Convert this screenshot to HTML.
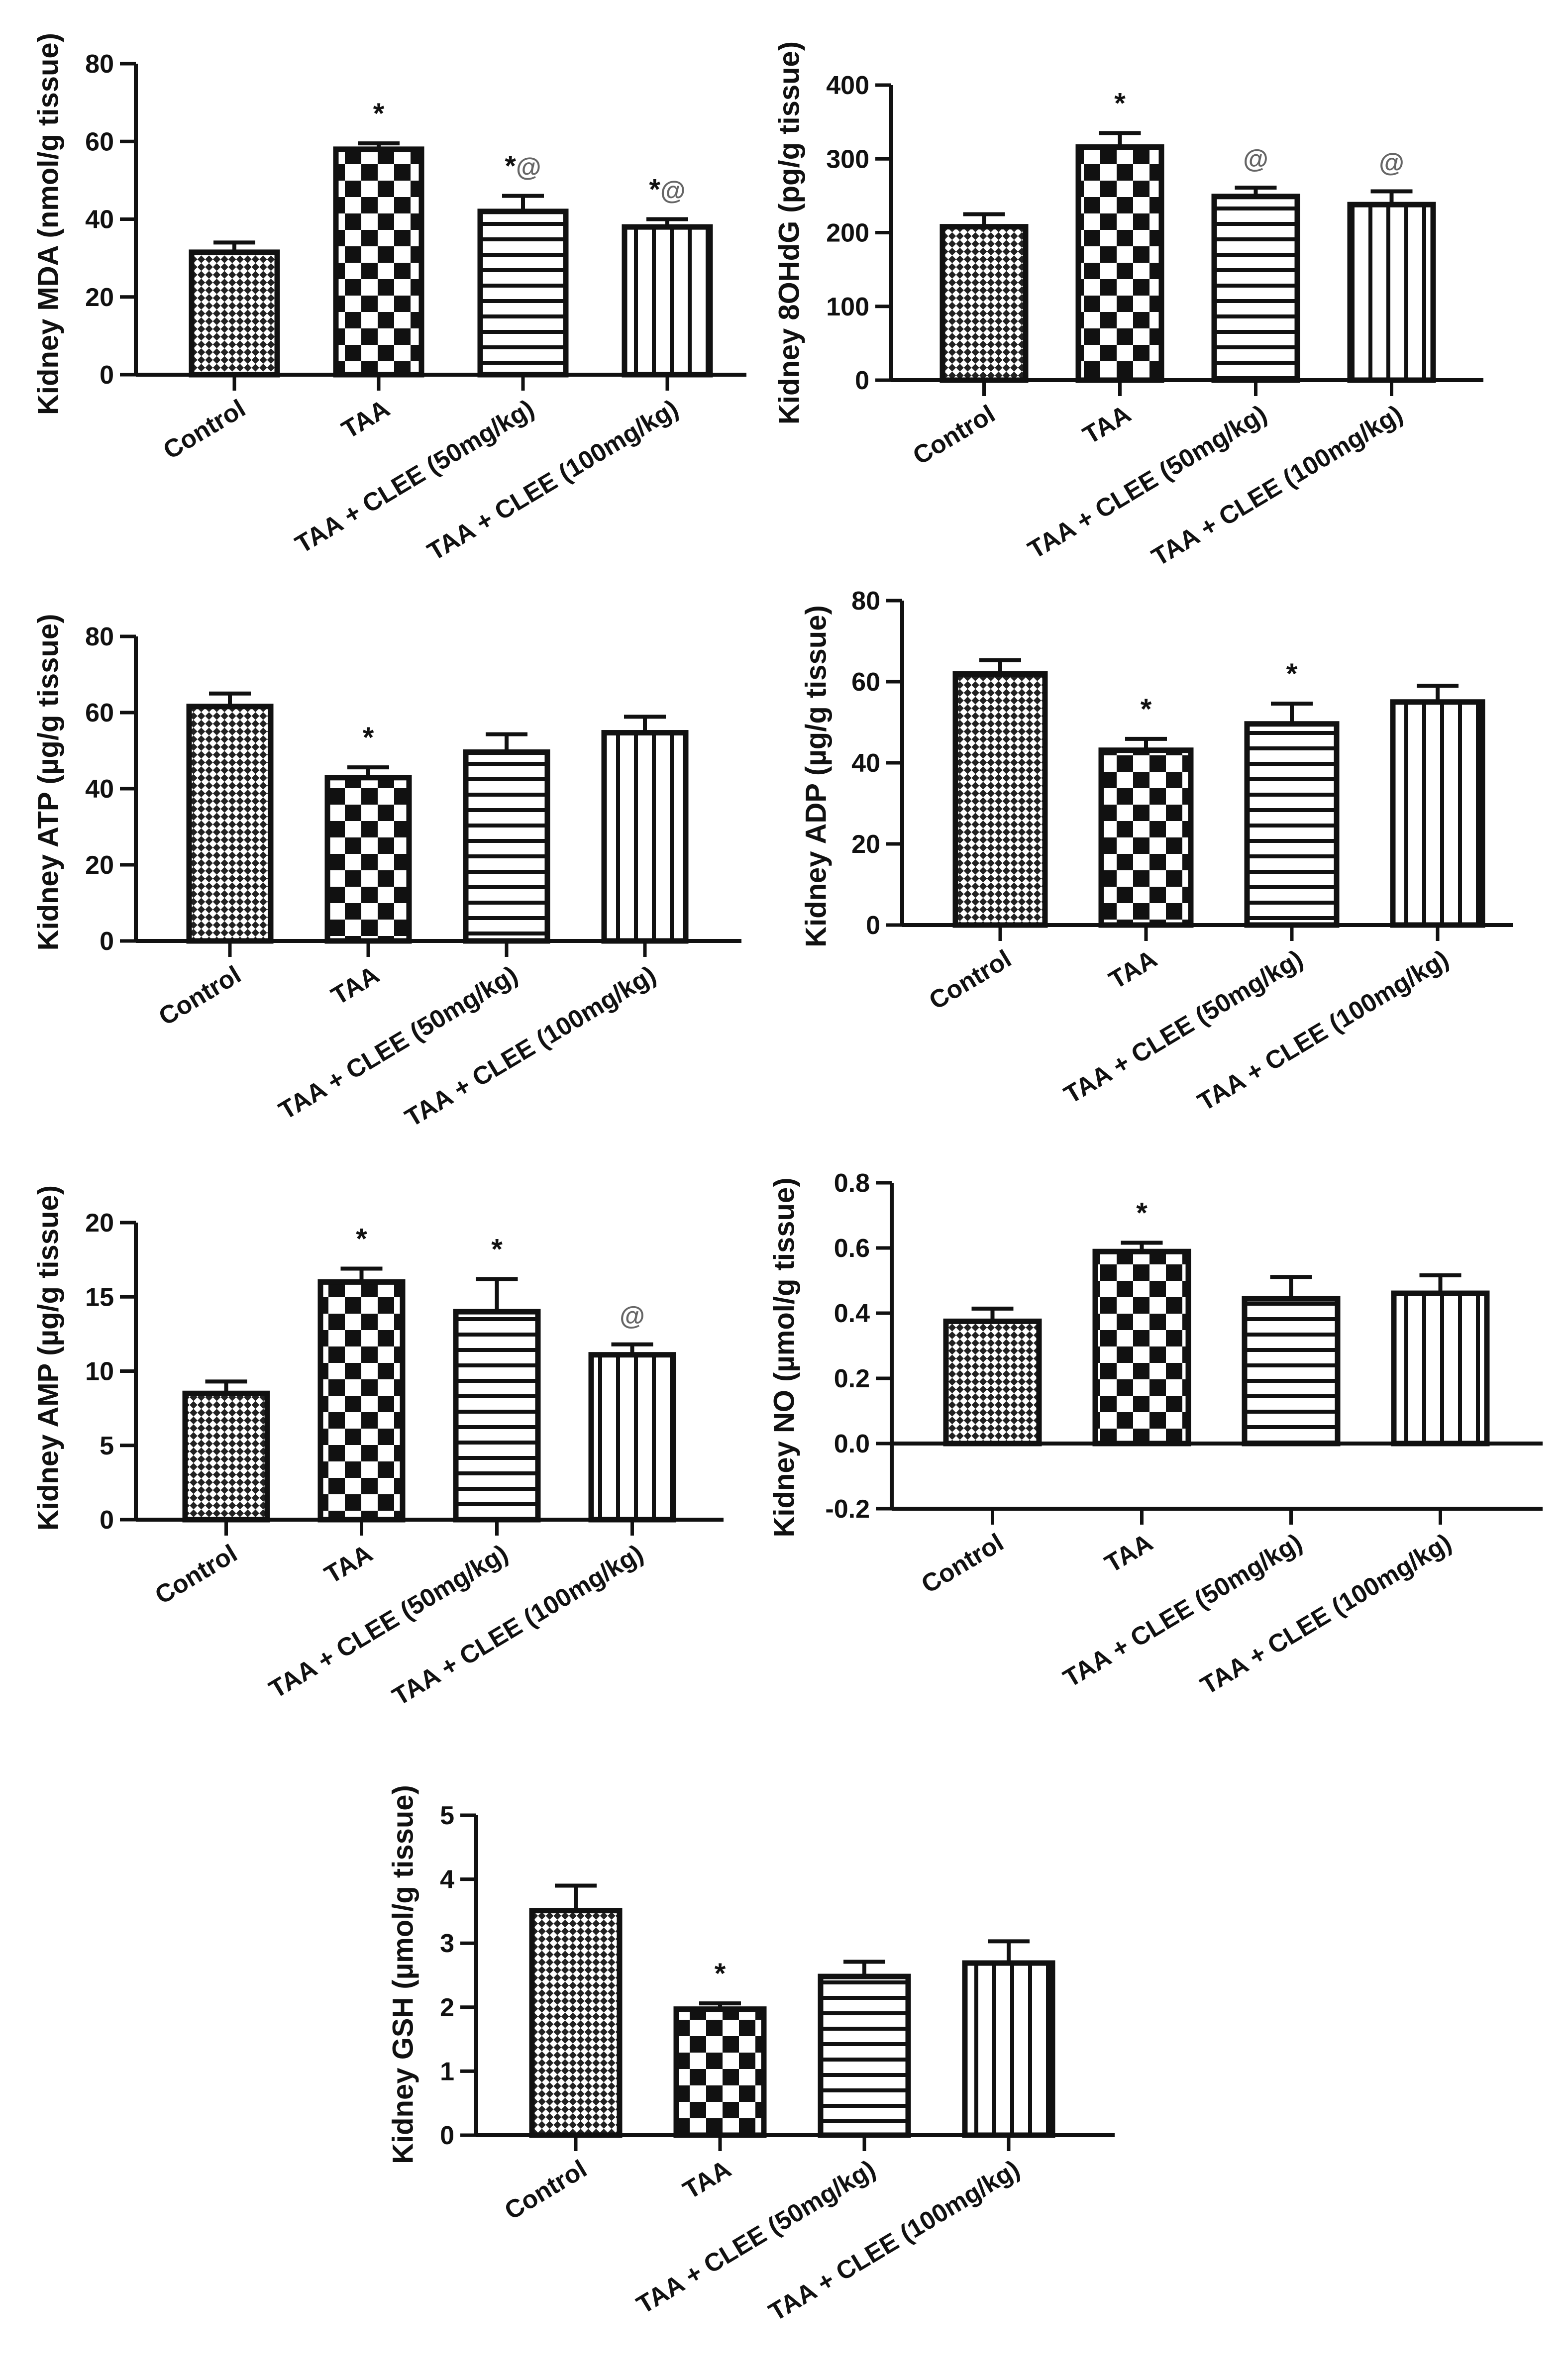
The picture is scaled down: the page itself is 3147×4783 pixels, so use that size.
<!DOCTYPE html>
<html><head><meta charset="utf-8"><style>
html,body{margin:0;padding:0;background:#fff;}
svg{display:block;font-family:"Liberation Sans",Arial,sans-serif;}
</style></head><body>
<svg id="fig" width="3147" height="4783" viewBox="0 0 3147 4783" xmlns="http://www.w3.org/2000/svg">
<defs>
<pattern id="pCtrl" patternUnits="userSpaceOnUse" width="22" height="22" patternTransform="rotate(45)">
<rect width="22" height="22" fill="#fff"/><rect width="11" height="11" fill="#222"/><rect x="11" y="11" width="11" height="11" fill="#222"/></pattern>
<pattern id="pTAA" patternUnits="userSpaceOnUse" width="66" height="66">
<rect width="66" height="66" fill="#fff"/><rect width="33" height="33" fill="#111"/><rect x="33" y="33" width="33" height="33" fill="#111"/></pattern>
<pattern id="pH" patternUnits="userSpaceOnUse" width="31" height="31">
<rect width="31" height="31" fill="#fff"/><rect y="12" width="31" height="8" fill="#111"/></pattern>
<pattern id="pV" patternUnits="userSpaceOnUse" width="36" height="36">
<rect width="36" height="36" fill="#fff"/><rect x="14" width="8" height="36" fill="#111"/></pattern>
</defs>
</svg>
<script>
const categories = ["Control", "TAA", "TAA + CLEE (50mg/kg)", "TAA + CLEE (100mg/kg)"];
const mdaValues = [31.5, 58, 42, 38];
const mdaErrors = [2.5, 1.5, 4, 2];
const mdaMarks = ["", "*", "*@", "*@"];
const ohdgValues = [208, 316, 249, 238];
const ohdgErrors = [17, 19, 12, 18];
const ohdgMarks = ["", "*", "@", "@"];
const atpValues = [61.6, 42.9, 49.6, 54.7];
const atpErrors = [3.4, 2.7, 4.7, 4.2];
const atpMarks = ["", "*", "", ""];
const adpValues = [61.9, 43.1, 49.6, 55];
const adpErrors = [3.4, 2.8, 5, 4];
const adpMarks = ["", "*", "*", ""];
const ampValues = [8.5, 16.0, 14.0, 11.1];
const ampErrors = [0.8, 0.9, 2.2, 0.7];
const ampMarks = ["", "*", "*", "@"];
const noValues = [0.375, 0.589, 0.444, 0.461];
const noErrors = [0.039, 0.027, 0.067, 0.055];
const noMarks = ["", "*", "", ""];
const gshValues = [3.51, 1.97, 2.48, 2.69];
const gshErrors = [0.39, 0.09, 0.23, 0.34];
const gshMarks = ["", "*", "", ""];
const mdaTicks = [0, 20, 40, 60, 80];
const ohdgTicks = [0, 100, 200, 300, 400];
const atpTicks = [0, 20, 40, 60, 80];
const adpTicks = [0, 20, 40, 60, 80];
const ampTicks = [0, 5, 10, 15, 20];
const noTicks = [-0.2, 0, 0.2, 0.4, 0.6, 0.8];
const gshTicks = [0, 1, 2, 3, 4, 5];

const fills = ["url(#pCtrl)", "url(#pTAA)", "url(#pH)", "url(#pV)"];
const NS = "http://www.w3.org/2000/svg";
const svg = document.getElementById("fig");
function mk(tag, attrs, parent) {
  const e = document.createElementNS(NS, tag);
  for (const k in attrs) e.setAttribute(k, attrs[k]);
  (parent || svg).appendChild(e);
  return e;
}
const charts = [
  {id:"mda", title:"Kidney MDA (nmol/g tissue)", vals:mdaValues, errs:mdaErrors, marks:mdaMarks, ticks:mdaTicks, dec:0,
   ax:273, xEnd:1500, yTopPx:128, yMinPx:753, ymin:0, ymax:80, left:380, step:290, w:182, tx:97, ty:450},
  {id:"8ohdg", title:"Kidney 8OHdG (pg/g tissue)", vals:ohdgValues, errs:ohdgErrors, marks:ohdgMarks, ticks:ohdgTicks, dec:0,
   ax:1791, xEnd:2981, yTopPx:171, yMinPx:764, ymin:0, ymax:400, left:1889, step:273, w:177, tx:1586, ty:468},
  {id:"atp", title:"Kidney ATP (µg/g tissue)", vals:atpValues, errs:atpErrors, marks:atpMarks, ticks:atpTicks, dec:0,
   ax:273, xEnd:1490, yTopPx:1279, yMinPx:1891, ymin:0, ymax:80, left:375, step:278, w:174, tx:97, ty:1572},
  {id:"adp", title:"Kidney ADP (µg/g tissue)", vals:adpValues, errs:adpErrors, marks:adpMarks, ticks:adpTicks, dec:0,
   ax:1813, xEnd:3040, yTopPx:1207, yMinPx:1859, ymin:0, ymax:80, left:1915, step:293, w:190, tx:1640, ty:1560},
  {id:"amp", title:"Kidney AMP (µg/g tissue)", vals:ampValues, errs:ampErrors, marks:ampMarks, ticks:ampTicks, dec:0,
   ax:273, xEnd:1454, yTopPx:2457, yMinPx:3054, ymin:0, ymax:20, left:367, step:272, w:175, tx:97, ty:2729},
  {id:"no", title:"Kidney NO (µmol/g tissue)", vals:noValues, errs:noErrors, marks:noMarks, ticks:noTicks, dec:1,
   ax:1792, xEnd:3100, yTopPx:2377, yMinPx:3032, ymin:-0.2, ymax:0.8, left:1896, step:300, w:197, tx:1576, ty:2728},
  {id:"gsh", title:"Kidney GSH (µmol/g tissue)", vals:gshValues, errs:gshErrors, marks:gshMarks, ticks:gshTicks, dec:0,
   ax:957, xEnd:2240, yTopPx:3648, yMinPx:4291, ymin:0, ymax:5, left:1064, step:290, w:186, tx:810, ty:3968}
];
charts.forEach(c => {
  const g = mk("g", {});
  
  
  const y = v => c.yMinPx + (v - c.ymin) * (c.yTopPx - c.yMinPx) / (c.ymax - c.ymin);
  const y0 = y(Math.max(0, c.ymin));
  const xc = i => c.left + i * c.step + c.w / 2;
  c.vals.forEach((v, i) => {
    const b = mk("rect", {x: c.left + i*c.step + 5, y: y(v), width: c.w - 10, height: y0 - y(v), fill: fills[i], stroke: "#111", "stroke-width": 11}, g);
    
    
    const et = y(v + c.errs[i]);
    const e1 = mk("line", {x1: xc(i), x2: xc(i), y1: y(v), y2: et, stroke: "#111", "stroke-width": 8}, g);
    
    
    mk("line", {x1: xc(i) - 42, x2: xc(i) + 42, y1: et, y2: et, stroke: "#111", "stroke-width": 8}, g);
    if (c.marks[i]) {
      const t = mk("text", {x: xc(i), y: et - 40, "text-anchor": "middle", "font-size": 54, "font-weight": "bold", fill: "#222"}, g);
      
      
      for (const ch of c.marks[i]) {
        const s = mk("tspan", {fill: ch === "@" ? "#666" : "#111", "font-size": ch === "@" ? 52 : 58}, t);
        s.textContent = ch;
      }
    }
  });
  const yAx = mk("line", {x1: c.ax, x2: c.ax, y1: c.yTopPx, y2: c.yMinPx + 3, stroke: "#111", "stroke-width": 8}, g);
  
  
  const xAx = mk("line", {x1: c.ax, x2: c.xEnd, y1: c.yMinPx, y2: c.yMinPx, stroke: "#111", "stroke-width": 8}, g);
  
  
  if (c.ymin < 0) {
    const zl = mk("line", {x1: c.ax, x2: c.xEnd, y1: y0, y2: y0, stroke: "#111", "stroke-width": 8}, g);
    
    
  }
  c.ticks.forEach(t => {
    mk("line", {x1: c.ax - 32, x2: c.ax, y1: y(t), y2: y(t), stroke: "#111", "stroke-width": 7}, g);
    const tl = mk("text", {x: c.ax - 44, y: y(t) + 18, "text-anchor": "end", "font-size": 52, "font-weight": "bold", fill: "#111"}, g);
    
    
    tl.textContent = t.toFixed(c.dec);
  });
  categories.forEach((cat, i) => {
    mk("line", {x1: xc(i), x2: xc(i), y1: c.yMinPx, y2: c.yMinPx + 32, stroke: "#111", "stroke-width": 7}, g);
    const bx = xc(i) + 26, by = c.yMinPx + 78;
    const cl = mk("text", {x: bx, y: by, "text-anchor": "end", "font-size": 51, "font-weight": "bold", fill: "#111", transform: `rotate(-31 ${bx} ${by})`}, g);
    
    
    cl.textContent = cat;
  });
  const tt = mk("text", {x: c.tx, y: c.ty, "text-anchor": "middle", "dominant-baseline": "central", "font-size": 58, "font-weight": "bold", fill: "#111", transform: `rotate(-90 ${c.tx} ${c.ty})`}, g);
  
  
  tt.textContent = c.title;
});
</script>
</body></html>
